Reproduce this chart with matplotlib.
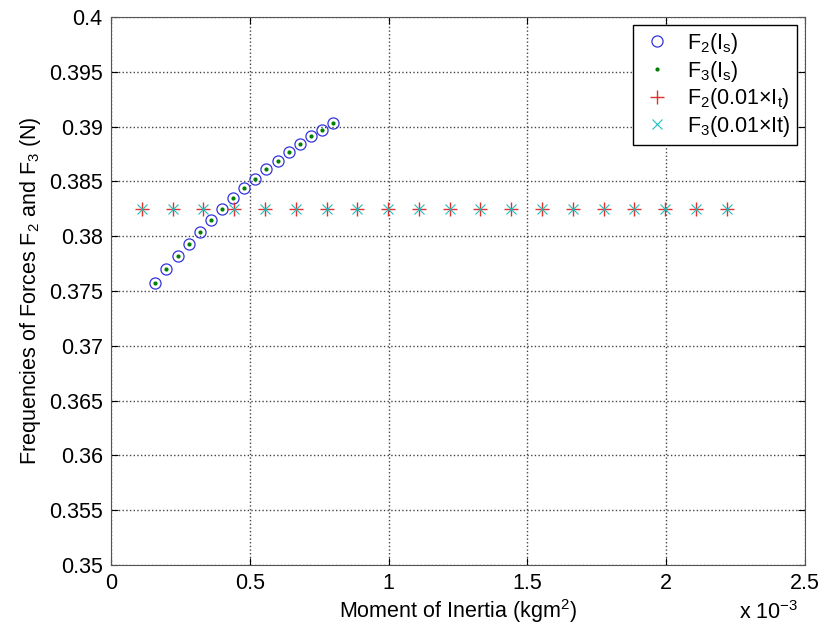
#!/usr/bin/env python3
"""Frequencies of forces F2 and F3 vs moment of inertia"""

import matplotlib
matplotlib.use('Agg')
import matplotlib.pyplot as plt
from matplotlib.ticker import FuncFormatter

# Dados (x em kgm^2)
inertia_s = [0.16e-3, 0.20e-3, 0.24e-3, 0.28e-3, 0.32e-3, 0.36e-3, 0.40e-3,
             0.44e-3, 0.48e-3, 0.52e-3, 0.56e-3, 0.60e-3, 0.64e-3, 0.68e-3,
             0.72e-3, 0.76e-3, 0.80e-3]
f2_is = [0.3757, 0.3770, 0.3782, 0.3793, 0.3804, 0.3815, 0.3825, 0.3835,
         0.3844, 0.3852, 0.3861, 0.3869, 0.3877, 0.3884, 0.3891, 0.3897,
         0.3903]
f3_is = f2_is

inertia_t = [0.111e-3, 0.222e-3, 0.333e-3, 0.444e-3, 0.555e-3, 0.666e-3,
             0.777e-3, 0.888e-3, 0.999e-3, 1.109e-3, 1.220e-3, 1.331e-3,
             1.442e-3, 1.553e-3, 1.664e-3, 1.775e-3, 1.886e-3, 1.997e-3,
             2.108e-3, 2.218e-3]
f2_it = [0.3825] * 20
f3_it = [0.3825] * 20

labels = [r'$\mathregular{F_2(I_s)}$', r'$\mathregular{F_3(I_s)}$',
          r'$\mathregular{F_2(0.01{\times}I_t)}$',
          r'$\mathregular{F_3(0.01{\times}It)}$']

plt.rcParams['font.family'] = ['Liberation Sans', 'DejaVu Sans']
plt.rcParams['mathtext.fontset'] = 'custom'
plt.rcParams['mathtext.rm'] = 'Liberation Sans'

fig = plt.figure(figsize=(8.24, 6.33), dpi=100)
ax = fig.add_axes([0.1347, 0.1074, 0.842, 0.8657])

ax.plot(inertia_s, f2_is, 'o', color='#3333dd', mfc='none', ms=8, mew=0.9,
        label=labels[0])
ax.plot(inertia_s, f3_is, '.', color='#007f00', ms=4, label=labels[1])
ax.plot(inertia_t, f2_it, '+', color='#e03030', ms=10, mew=1.0,
        label=labels[2])
ax.plot(inertia_t, f3_it, 'x', color='#20bfbf', ms=7, mew=0.8,
        label=labels[3])

ax.set_xlim(0, 2.5e-3)
ax.set_ylim(0.35, 0.4)
ax.set_xticks([0, 0.5e-3, 1e-3, 1.5e-3, 2e-3, 2.5e-3])
ax.set_yticks([0.35 + 0.005 * i for i in range(11)])
ax.xaxis.set_major_formatter(FuncFormatter(lambda v, p: f'{v * 1e3:g}'))
ax.yaxis.set_major_formatter(FuncFormatter(lambda v, p: f'{round(v, 3):g}'))

ax.grid(True, linestyle=':', color='#444444', linewidth=1.0)
ax.tick_params(direction='in', top=True, right=True, labelsize=15.5,
               length=5, pad=6)
for s in ax.spines.values():
    s.set_color('#555555')

ax.set_xlabel(r'Moment of Inertia (kgm$^\mathregular{2}$)', fontsize=15.5,
              labelpad=2)
ax.set_ylabel(r'Frequencies of Forces F$_\mathregular{2}$ and F$_\mathregular{3}$ (N)',
              fontsize=15.5)
ax.text(0.99, -0.066, r'x 10$^\mathregular{-3}$', transform=ax.transAxes,
        ha='right', va='top', fontsize=15.5)

ax.legend(loc='upper right', fontsize=15.5, fancybox=False, edgecolor='black',
          framealpha=1, borderaxespad=0.35, handletextpad=0.6,
          labelspacing=0.12, handlelength=1.6, borderpad=0.3)

fig.savefig('out.png', dpi=100)
